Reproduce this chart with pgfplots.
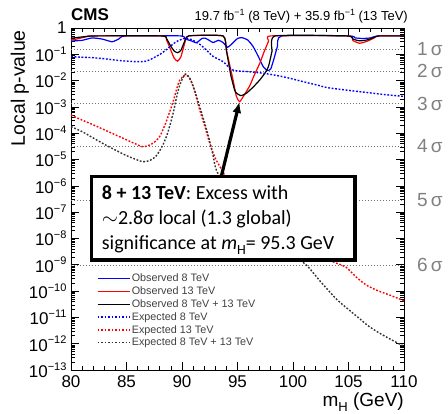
\documentclass[border=0pt]{standalone}
\usepackage{pgfplots}
\pgfplotsset{compat=1.18}
\usepackage{fontspec}
\setmainfont{Liberation Sans}
\newfontfamily\boxfont{Carlito}
\usetikzlibrary{arrows.meta}
\newcommand\supt[2][11]{\raisebox{0.42em}{\fontsize{#1}{#1}\selectfont #2}}
\newcommand\subt[2][13]{\raisebox{-0.25em}{\fontsize{#1}{#1}\selectfont #2}}
\definecolor{sig}{gray}{0.45}
\definecolor{siglab}{gray}{0.5}
\tikzset{siglabel/.style={anchor=west, inner sep=0, text=siglab, font=\fontsize{19}{19}\selectfont, xshift=13pt}}
\begin{document}
\begin{tikzpicture}
\begin{axis}[
  at={(71pt,44pt)}, anchor=south west,
  scale only axis, width=333pt, height=342pt,
  xmin=80, xmax=110,
  ymode=log, ymin=1e-13, ymax=1,
  clip=false,
  axis line style={line width=0.8pt},
  xtick={80,85,...,110}, minor x tick num=4,
  ytickten={-13,-12,...,0},
  yticklabels={10\supt{−13},10\supt{−12},10\supt{−11},10\supt{−10},10\supt{−9},10\supt{−8},10\supt{−7},10\supt{−6},10\supt{−5},10\supt{−4},10\supt{−3},10\supt{−2},10\supt{−1},1},
  tick pos=both,
  major tick length=8pt, minor tick length=4pt,
  tick style={line width=0.6pt, black},
  tick label style={font=\fontsize{17}{17}\selectfont},
  /pgf/number format/assume math mode=true,
  xticklabel style={yshift=-2pt},
  yticklabel style={xshift=-1pt},
  legend style={at={(0.068,0.292)}, anchor=north west, draw=none, fill=none,
    font=\fontsize{10.8}{11}\selectfont\color{black!75},
    nodes={inner sep=1.6pt}, row sep=0.3pt, cells={anchor=west}},
  legend image code/.code={\draw[#1] (0pt,0pt) -- (32pt,0pt);},
]
% sigma lines
\addplot[sig, line width=0.8pt, dash pattern=on 1.2pt off 1.8pt, forget plot] coordinates {(80,0.1587) (110,0.1587)};
\addplot[sig, line width=0.8pt, dash pattern=on 1.2pt off 1.8pt, forget plot] coordinates {(80,0.02275) (110,0.02275)};
\addplot[sig, line width=0.8pt, dash pattern=on 1.2pt off 1.8pt, forget plot] coordinates {(80,0.00135) (110,0.00135)};
\addplot[sig, line width=0.8pt, dash pattern=on 1.2pt off 1.8pt, forget plot] coordinates {(80,3.167e-5) (110,3.167e-5)};
\addplot[sig, line width=0.8pt, dash pattern=on 1.2pt off 1.8pt, forget plot] coordinates {(80,2.867e-7) (110,2.867e-7)};
\addplot[sig, line width=0.8pt, dash pattern=on 1.2pt off 1.8pt, forget plot] coordinates {(80,9.866e-10) (110,9.866e-10)};

% Observed 8 TeV
\addplot[blue, line width=1.2pt, smooth, tension=0.3] coordinates {
(80,0.32) (81,0.34) (81.9,0.42) (82.8,0.38) (83.7,0.30) (84.3,0.38) (84.9,0.5)
(89.9,0.5) (90.3,0.38) (90.8,0.33) (91.3,0.275) (91.8,0.40) (92.1,0.41) (92.5,0.33)
(92.8,0.28) (93.3,0.34) (93.7,0.28) (94.1,0.186) (94.5,0.25) (95.0,0.40) (95.4,0.43)
(95.9,0.355) (96.4,0.20) (96.9,0.079) (97.3,0.035) (97.7,0.024) (98.0,0.028) (98.3,0.071)
(98.6,0.20) (99.0,0.5) (105.1,0.5) (105.6,0.42) (106.3,0.40) (107.0,0.42) (107.6,0.5) (110,0.5)};
\addlegendentry{Observed 8 TeV}
% Observed 13 TeV
\addplot[red, line width=1.2pt, smooth, tension=0.3] coordinates {
(80,0.347) (80.5,0.38) (81,0.427) (81.5,0.479) (81.9,0.5)
(88.2,0.5) (88.6,0.355) (89.0,0.141) (89.3,0.0708) (89.6,0.055) (89.9,0.0794) (90.2,0.224) (90.6,0.5)
(93.7,0.5) (94.0,0.141) (94.2,0.0603) (94.6,0.0105) (94.9,0.00251) (95.2,0.00158)
(95.6,0.00282) (96.1,0.00631) (96.5,0.0158) (97.0,0.0447) (97.4,0.126) (97.8,0.316) (98.0,0.5)
(104.9,0.5) (105.4,0.331) (106.0,0.263) (106.7,0.316) (107.3,0.417) (107.7,0.5) (110,0.5)};
\addlegendentry{Observed 13 TeV}
% Observed combined
\addplot[black, line width=1.2pt, smooth, tension=0.3] coordinates {
(80,0.407) (80.6,0.437) (81.2,0.468) (82.2,0.5)
(88.2,0.5) (88.6,0.398) (89.0,0.2) (89.3,0.132) (89.6,0.115) (89.9,0.141) (90.2,0.282) (90.6,0.5)
(93.7,0.5) (94.0,0.141) (94.4,0.0158) (94.8,0.0038) (95.3,0.00269)
(95.8,0.00331) (96.4,0.00562) (97.0,0.0105) (97.5,0.02) (97.8,0.0355) (98.1,0.126) (98.4,0.5)
(104.9,0.5) (105.4,0.38) (106.0,0.324) (106.7,0.355) (107.3,0.437) (107.7,0.5) (110,0.5)};
\addlegendentry{Observed 8 TeV + 13 TeV}
% Expected 8 TeV
\addplot[blue, line width=1.4pt, dash pattern=on 1.8pt off 1.7pt, smooth] coordinates {
(80,0.0813) (81,0.0776) (82,0.0741) (83,0.0676) (84,0.0603) (85,0.055) (86,0.0525)
(86.8,0.055) (87.5,0.0759) (88.2,0.112) (88.8,0.178) (89.5,0.302) (90.3,0.407) (90.9,0.355)
(91.6,0.24) (92.2,0.145) (92.8,0.0832) (93.7,0.0525) (94.6,0.0251) (96,0.0219) (97.3,0.0191)
(98.5,0.0158) (99.7,0.0123) (101,0.00891) (102,0.00708) (103,0.0055) (104,0.00479)
(105,0.00427) (106,0.0038) (107,0.00339) (108,0.00302) (109,0.00275) (110,0.00251)};
\addlegendentry{Expected 8 TeV}
% Expected 13 TeV
\addplot[red, line width=1.4pt, dash pattern=on 1.8pt off 1.7pt, smooth] coordinates {
(80,4.9e-4) (81,3.16e-4) (82,2.09e-4) (83,1.35e-4) (84,8.71e-5) (85,5.62e-5) (86,3.63e-5)
(86.4,3.09e-5) (86.9,3.31e-5) (87.5,4.47e-5) (88,7.59e-5) (88.4,1.78e-4) (88.8,5.01e-4)
(89.2,1.58e-3) (89.5,4.47e-3) (89.8,0.0105) (90.3,0.0162) (90.7,0.0123) (91.1,4.47e-3)
(91.6,7.59e-4) (92.1,1.58e-4) (92.5,4.17e-5) (93,1.12e-5) (93.6,3.98e-6) (94,2.0e-6)
(95,5.0e-7) (96,1.58e-7) (97,6.31e-8) (98,2.82e-8) (99,1.41e-8) (100,7.94e-9) (101,4.47e-9)
(102,2.69e-9) (103,1.66e-9) (104,1.12e-9) (104.8,7.94e-10) (105.7,3.39e-10) (106.6,1.7e-10)
(107.6,1.05e-10) (108.7,7.08e-11) (110,4.27e-11)};
\addlegendentry{Expected 13 TeV}
% Expected combined
\addplot[black!80, line width=1.4pt, dash pattern=on 1.8pt off 1.7pt, smooth] coordinates {
(80,1.78e-4) (81,1.15e-4) (82,6.61e-5) (83,3.8e-5) (84,2.29e-5) (85,1.41e-5) (86,9.55e-6)
(86.4,8.32e-6) (87,8.91e-6) (87.6,1.26e-5) (88.2,3.09e-5) (88.7,1e-4) (89.2,5.75e-4)
(89.5,2.24e-3) (89.8,6.76e-3) (90.3,0.0178) (90.8,0.01) (91.2,3.55e-3) (91.6,1e-3)
(92.0,2.82e-4) (92.4,7.08e-5) (92.8,1.41e-5) (93.1,3.98e-6) (94,7.94e-7) (95,2.24e-7)
(96,7.08e-8) (97,2.51e-8) (98,1e-8) (99,4.47e-9) (100,2.24e-9) (101.2,9.77e-10)
(102.5,2.24e-10) (103.9,5.01e-11) (105,2e-11) (106,8.91e-12) (106.9,4.37e-12)
(108,2.24e-12) (109,1.32e-12) (110,7.94e-13)};
\addlegendentry{Expected 8 TeV + 13 TeV}

% arrow and annotation box
\draw[line width=3.2pt, -{Latex[length=11pt,width=9pt]}] (axis cs:93.24,6.9e-7) -- (axis cs:95.18,1.55e-3);
\draw[line width=3.5pt, fill=white] (rel axis cs:0.0623,0.3209) rectangle (rel axis cs:0.8536,0.5651);
\node[anchor=base west, inner sep=0, font=\boxfont\fontsize{20}{24}\selectfont] at (rel axis cs:0.0922,0.4991) {\textbf{8 + 13 TeV}: Excess with};
\node[anchor=base west, inner sep=0, font=\boxfont\fontsize{20}{24}\selectfont] at (rel axis cs:0.0922,0.4260) {$\sim$2.8σ local (1.3 global)};
\node[anchor=base west, inner sep=0, font=\boxfont\fontsize{20}{24}\selectfont] at (rel axis cs:0.0922,0.3529) {significance at \textit{m}\subt[14]{H}= 95.3 GeV};

% sigma labels
\node[siglabel] at (axis cs:110,0.1587) {1\,σ};
\node[siglabel] at (axis cs:110,0.02275) {2\,σ};
\node[siglabel] at (axis cs:110,0.00135) {3\,σ};
\node[siglabel] at (axis cs:110,3.167e-5) {4\,σ};
\node[siglabel] at (axis cs:110,2.867e-7) {5\,σ};
\node[siglabel] at (axis cs:110,9.866e-10) {6\,σ};
% titles
\node[anchor=base west, inner sep=0, font=\bfseries\fontsize{17}{17}\selectfont, yshift=7.5pt] at (rel axis cs:0,1) {CMS};
\node[anchor=base east, inner sep=0, font=\fontsize{13}{13}\selectfont, yshift=7.5pt, xshift=4pt] at (rel axis cs:1,1) {19.7 fb\supt[9]{−1} (8 TeV) + 35.9 fb\supt[9]{−1} (13 TeV)};
\node[anchor=base east, inner sep=0, font=\fontsize{19}{19}\selectfont] at ([yshift=-37pt]rel axis cs:1,0) {m\subt{H} (GeV)};
\node[anchor=base east, inner sep=0, rotate=90, font=\fontsize{19.5}{19.5}\selectfont] at ([xshift=-46pt,yshift=-2pt]rel axis cs:0,1) {Local p-value};
\end{axis}
\pgfresetboundingbox
\useasboundingbox (0,0) rectangle (448pt,414pt);
\end{tikzpicture}
\end{document}
